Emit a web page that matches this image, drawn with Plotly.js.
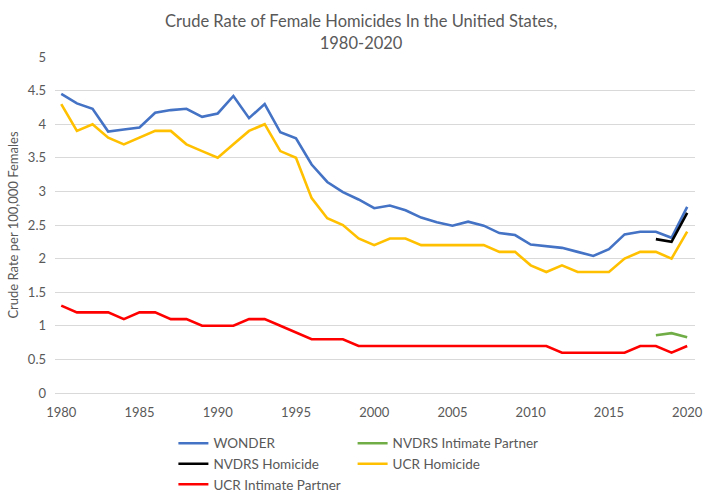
<!DOCTYPE html>
<html>
<head>
<meta charset="utf-8">
<script src="https://cdn.plot.ly/plotly-3.0.1.min.js"></script>
<style>
  body { margin: 0; background: #fff; }
  #chart { width: 708px; height: 493px; }
</style>
</head>
<body>
<div id="chart"></div>
<script>
'use strict'
/* global Plotly */

// years on the x axis
const years = [1980, 1981, 1982, 1983, 1984, 1985, 1986, 1987, 1988, 1989,
  1990, 1991, 1992, 1993, 1994, 1995, 1996, 1997, 1998, 1999,
  2000, 2001, 2002, 2003, 2004, 2005, 2006, 2007, 2008, 2009,
  2010, 2011, 2012, 2013, 2014, 2015, 2016, 2017, 2018, 2019, 2020]

// CDC WONDER crude rate
const wonder = [4.45, 4.31, 4.23, 3.89, 3.92, 3.95, 4.17, 4.21, 4.23, 4.11,
  4.16, 4.42, 4.09, 4.30, 3.88, 3.79, 3.40, 3.14, 2.99, 2.88,
  2.75, 2.79, 2.72, 2.61, 2.54, 2.49, 2.55, 2.49, 2.38, 2.35,
  2.21, 2.19, 2.16, 2.10, 2.04, 2.14, 2.36, 2.40, 2.40, 2.31, 2.77]

// UCR homicide
const ucrHomicide = [4.3, 3.9, 4.0, 3.8, 3.7, 3.8, 3.9, 3.9, 3.7, 3.6,
  3.5, 3.7, 3.9, 4.0, 3.6, 3.5, 2.9, 2.6, 2.5, 2.3,
  2.2, 2.3, 2.3, 2.2, 2.2, 2.2, 2.2, 2.2, 2.1, 2.1,
  1.9, 1.8, 1.9, 1.8, 1.8, 1.8, 2.0, 2.1, 2.1, 2.0, 2.4]

// UCR intimate partner
const ucrIntimate = [1.3, 1.2, 1.2, 1.2, 1.1, 1.2, 1.2, 1.1, 1.1, 1.0,
  1.0, 1.0, 1.1, 1.1, 1.0, 0.9, 0.8, 0.8, 0.8, 0.7,
  0.7, 0.7, 0.7, 0.7, 0.7, 0.7, 0.7, 0.7, 0.7, 0.7,
  0.7, 0.7, 0.6, 0.6, 0.6, 0.6, 0.6, 0.7, 0.7, 0.6, 0.7]

// NVDRS only covers the last three years
const nvdrsYears = [2018, 2019, 2020]
const nvdrsHomicide = [2.29, 2.25, 2.68]
const nvdrsIntimate = [0.86, 0.89, 0.83]

const yTicks = [0, 0.5, 1, 1.5, 2, 2.5, 3, 3.5, 4, 4.5, 5]
const yTickText = ['0', '0.5', '1', '1.5', '2', '2.5', '3', '3.5', '4', '4.5', '5']
const xTicks = [1980, 1985, 1990, 1995, 2000, 2005, 2010, 2015, 2020]

const GREY = '#595959'
const FONT = 'Lato, "Open Sans", sans-serif'

function line (name, x, y, color, legend, rank) {
  return {
    type: 'scatter',
    mode: 'lines',
    name: name,
    x: x,
    y: y,
    line: {color: color, width: 2.6},
    legend: legend,
    legendrank: rank,
    hoverinfo: 'x+y+name'
  }
}

const data = [
  line('WONDER', years, wonder, '#4472C4', 'legend', 1),
  line('NVDRS Intimate Partner', nvdrsYears, nvdrsIntimate, '#70AD47', 'legend2', 1),
  line('NVDRS Homicide', nvdrsYears, nvdrsHomicide, '#000000', 'legend', 2),
  line('UCR Homicide', years, ucrHomicide, '#FFC000', 'legend2', 2),
  line('UCR Intimate Partner', years, ucrIntimate, '#FF0000', 'legend', 3)
]

// two legends side by side make the two-column key;
// y is measured on the whole page so they stay in the bottom margin
const legendStyle = {
  orientation: 'v',
  xref: 'paper',
  yref: 'container',
  xanchor: 'left',
  yanchor: 'top',
  y: 0.132,
  font: {family: FONT, size: 13.5, color: GREY},
  bgcolor: 'rgba(0,0,0,0)',
  itemwidth: 30,
  tracegroupgap: 0
}

const layout = {
  width: 708,
  height: 493,
  margin: {l: 55, r: 13, t: 57, b: 100},
  paper_bgcolor: '#ffffff',
  plot_bgcolor: '#ffffff',
  font: {family: FONT, color: GREY},
  title: {
    text: 'Crude Rate of Female Homicides In the Unitied States,<br>1980-2020',
    font: {family: FONT, size: 16.5, color: GREY},
    x: 0.51,
    xanchor: 'center',
    xref: 'container',
    yref: 'container',
    y: 0.945,
    yanchor: 'top'
  },
  xaxis: {
    range: [1979.6, 2020.5],
    tickvals: xTicks,
    showgrid: false,
    zeroline: false,
    showline: false,
    ticks: '',
    ticklabelstandoff: 10,
    tickfont: {family: FONT, size: 13, color: GREY}
  },
  yaxis: {
    range: [0, 5],
    tickvals: yTicks,
    ticktext: yTickText,
    showgrid: true,
    gridcolor: '#d9d9d9',
    gridwidth: 1,
    zeroline: true,
    zerolinecolor: '#d9d9d9',
    zerolinewidth: 1,
    ticks: '',
    ticklabelstandoff: 8,
    tickfont: {family: FONT, size: 13, color: GREY},
    title: {
      text: 'Crude Rate per 100,000 Females',
      font: {family: FONT, size: 13, color: GREY},
      standoff: 6
    }
  },
  showlegend: true,
  legend: Object.assign({}, legendStyle, {x: 0.185}),
  legend2: Object.assign({}, legendStyle, {x: 0.465})
}

Plotly.newPlot('chart', data, layout, {displayModeBar: false, staticPlot: true})
</script>
</body>
</html>
